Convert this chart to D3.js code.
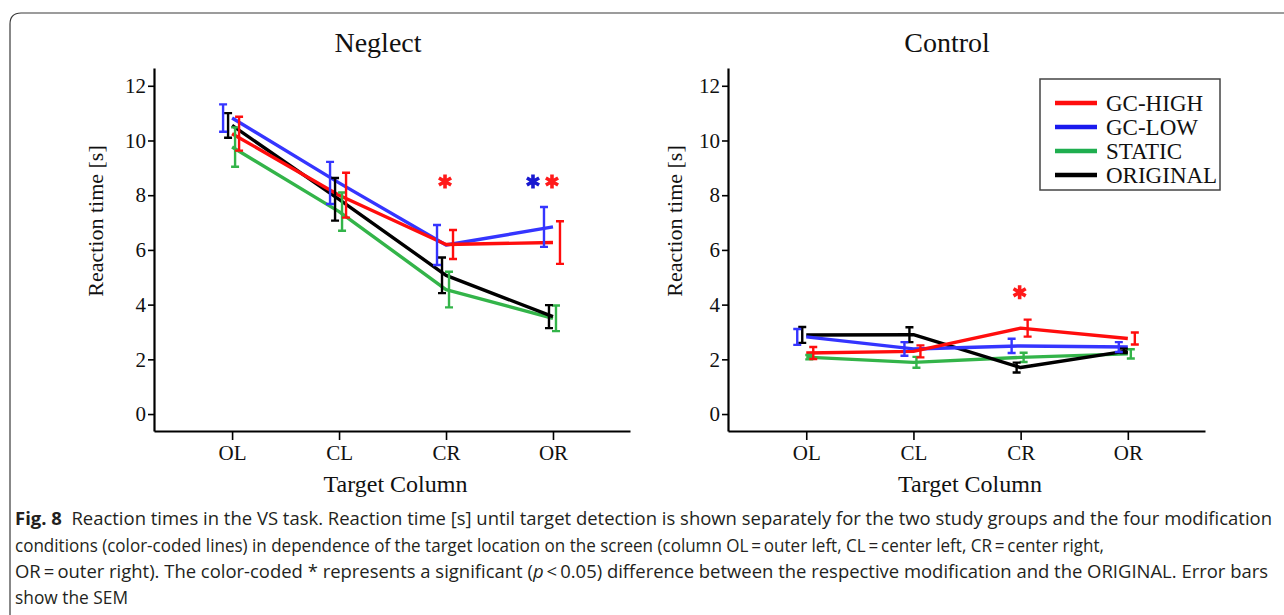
<!DOCTYPE html>
<html>
<head>
<meta charset="utf-8">
<script src="https://cdn.jsdelivr.net/npm/d3@7"></script>
<style>
body { margin: 0; background: #fff; }
svg { display: block; }
</style>
</head>
<body>
<svg id="fig" width="1284" height="615"></svg>
<script>
const columns = ["OL", "CL", "CR", "OR"];
const conditions = ["GC-HIGH", "GC-LOW", "STATIC", "ORIGINAL"];
const yTicks = [0, 2, 4, 6, 8, 10, 12];

// one row per condition, in the order of `conditions`
const neglectMean = [
  [10.25, 8.0, 6.2, 6.27],
  [10.82, 8.45, 6.18, 6.84],
  [9.76, 7.4, 4.55, 3.5],
  [10.55, 7.85, 5.07, 3.56]
];
const neglectSem = [
  [0.62, 0.82, 0.53, 0.78],
  [0.5, 0.77, 0.73, 0.73],
  [0.72, 0.7, 0.65, 0.47],
  [0.45, 0.78, 0.65, 0.42]
];
const controlMean = [
  [2.23, 2.29, 3.14, 2.76],
  [2.82, 2.38, 2.49, 2.45],
  [2.08, 1.89, 2.07, 2.2],
  [2.89, 2.9, 1.7, 2.31]
];
const controlSem = [
  [0.22, 0.22, 0.31, 0.22],
  [0.29, 0.25, 0.26, 0.18],
  [0.08, 0.2, 0.17, 0.17],
  [0.29, 0.27, 0.18, 0.08]
];
// significant difference to ORIGINAL: column, condition, height of the star
const neglectStars = [["CR", "GC-HIGH", 8.5], ["OR", "GC-LOW", 8.5], ["OR", "GC-HIGH", 8.5]];
const controlStars = [["CR", "GC-HIGH", 4.45]];

const captionLines = [
  "\u00a0\u00a0Reaction times in the VS task. Reaction time [s] until target detection is shown separately for the two study groups and the four modification",
  "conditions (color-coded lines) in dependence of the target location on the screen (column OL\u2009=\u2009outer left, CL\u2009=\u2009center left, CR\u2009=\u2009center right,",
  "OR\u2009=\u2009outer right). The color-coded * represents a significant (",
  "show the SEM"
];

const colors = ["#ff0d0d", "#3535ff", "#33b449", "#000"];
const starColors = ["#ff1a1a", "#1818d0", "#33b449", "#000"];
const dodge = [7, -9, 3, -4];
const serif = "'Liberation Serif', 'Times New Roman', serif";

const svg = d3.select("#fig");

// frame around the figure
svg.append("path")
  .attr("d", "M10,615 L10,24 Q10,13 21,13 L1284,13")
  .attr("fill", "none").attr("stroke", "#3a3a3a").attr("stroke-width", 1.2);

function panel(title, means, sems, stars, x0, x1, titleX, yLabelX) {
  const x = d3.scaleLinear().domain([0.27, 4.72]).range([x0, x1]);
  const y = d3.scaleLinear().domain([-0.62, 12.65]).range([431, 68]);
  const g = svg.append("g");

  const ya = g.append("g").attr("transform", `translate(${x0},0)`)
    .call(d3.axisLeft(y).tickValues(yTicks).tickSize(6).tickPadding(2).tickSizeOuter(0));
  const xa = g.append("g").attr("transform", "translate(0,431)")
    .call(d3.axisBottom(x).tickValues([1, 2, 3, 4]).tickFormat(i => columns[i - 1])
      .tickSize(9).tickPadding(5).tickSizeOuter(0));
  [ya, xa].forEach(a => {
    a.select(".domain").attr("stroke-width", 2.2);
    a.selectAll(".tick line").attr("stroke-width", 1.6);
    a.selectAll("text").attr("font-family", serif).attr("font-size", 21).attr("fill", "#111");
  });

  g.append("text").attr("x", titleX).attr("y", 52).attr("text-anchor", "middle")
    .attr("font-family", serif).attr("font-size", 28).attr("fill", "#111").text(title);
  g.append("text").attr("x", (x(1) + x(4)) / 2 + 3).attr("y", 492).attr("text-anchor", "middle")
    .attr("font-family", serif).attr("font-size", 24).attr("fill", "#111").text("Target Column");
  g.append("text").attr("transform", `translate(${yLabelX},221) rotate(-90)`).attr("text-anchor", "middle")
    .attr("font-family", serif).attr("font-size", 22).attr("fill", "#111").text("Reaction time [s]");

  const line = d3.line();
  [2, 3, 1, 0].forEach(c => {
    g.append("path")
      .attr("d", line(columns.map((col, i) => [x(i + 1), y(means[c][i])])))
      .attr("fill", "none").attr("stroke", colors[c]).attr("stroke-width", 3.4)
      .attr("stroke-linejoin", "round");
  });

  [2, 3, 1, 0].forEach(c => {
    columns.forEach((col, i) => {
      const cx = x(i + 1) + dodge[c];
      const lo = y(means[c][i] - sems[c][i]), hi = y(means[c][i] + sems[c][i]);
      const p = d3.path();
      p.moveTo(cx, lo); p.lineTo(cx, hi);
      p.moveTo(cx - 4, lo); p.lineTo(cx + 4, lo);
      p.moveTo(cx - 4, hi); p.lineTo(cx + 4, hi);
      g.append("path").attr("d", p.toString()).attr("fill", "none")
        .attr("stroke", colors[c]).attr("stroke-width", 2.4);
    });
  });

  const star = d3.symbol(d3.symbolAsterisk, 140);
  stars.forEach(s => {
    const same = stars.filter(t => t[0] === s[0]);
    const pos = same.indexOf(s);
    const c = conditions.indexOf(s[1]);
    const cx = x(columns.indexOf(s[0]) + 1) + (pos - (same.length - 1)) * 19 - 1;
    g.append("path").attr("d", star())
      .attr("transform", `translate(${cx},${y(s[2])})`)
      .attr("fill", "none").attr("stroke", starColors[c]).attr("stroke-width", 3.6);
  });
}

panel("Neglect", neglectMean, neglectSem, neglectStars, 154, 630, 378, 103);
panel("Control", controlMean, controlSem, controlStars, 728, 1205, 947, 682);

// legend
const legend = svg.append("g");
legend.append("rect").attr("x", 1040).attr("y", 79).attr("width", 180).attr("height", 111)
  .attr("fill", "#fff").attr("stroke", "#444").attr("stroke-width", 1.5);
const legendColors = ["#ff0d0d", "#1a1aee", "#1fae4f", "#000"];
conditions.forEach((name, i) => {
  const ly = 103 + i * 24;
  legend.append("line").attr("x1", 1055).attr("x2", 1097).attr("y1", ly).attr("y2", ly)
    .attr("stroke", legendColors[i]).attr("stroke-width", 4.5);
  legend.append("text").attr("x", 1106).attr("y", ly + 8)
    .attr("font-family", serif).attr("font-size", 23).attr("fill", "#111").text(name);
});

// caption
const sans = "'Open Sans', 'Noto Sans', sans-serif";
const cap = svg.append("g").attr("font-family", sans).attr("font-size", 18.5).attr("fill", "#231f20");
const ends = [1272, 1104, 1268, 128];
const t1 = cap.append("text").attr("x", 15).attr("y", 525)
  .attr("textLength", ends[0] - 15).attr("lengthAdjust", "spacingAndGlyphs");
t1.append("tspan").attr("font-weight", "bold").text("Fig. 8");
t1.append("tspan").text(captionLines[0]);
cap.append("text").attr("x", 15).attr("y", 552)
  .attr("textLength", ends[1] - 15).attr("lengthAdjust", "spacingAndGlyphs").text(captionLines[1]);
const t3 = cap.append("text").attr("x", 15).attr("y", 578)
  .attr("textLength", ends[2] - 15).attr("lengthAdjust", "spacingAndGlyphs");
t3.append("tspan").text(captionLines[2]);
t3.append("tspan").attr("font-style", "italic").text("p");
t3.append("tspan").text("\u2009<\u20090.05) difference between the respective modification and the ORIGINAL. Error bars");
cap.append("text").attr("x", 15).attr("y", 604)
  .attr("textLength", ends[3] - 15).attr("lengthAdjust", "spacingAndGlyphs").text(captionLines[3]);
</script>
</body>
</html>
